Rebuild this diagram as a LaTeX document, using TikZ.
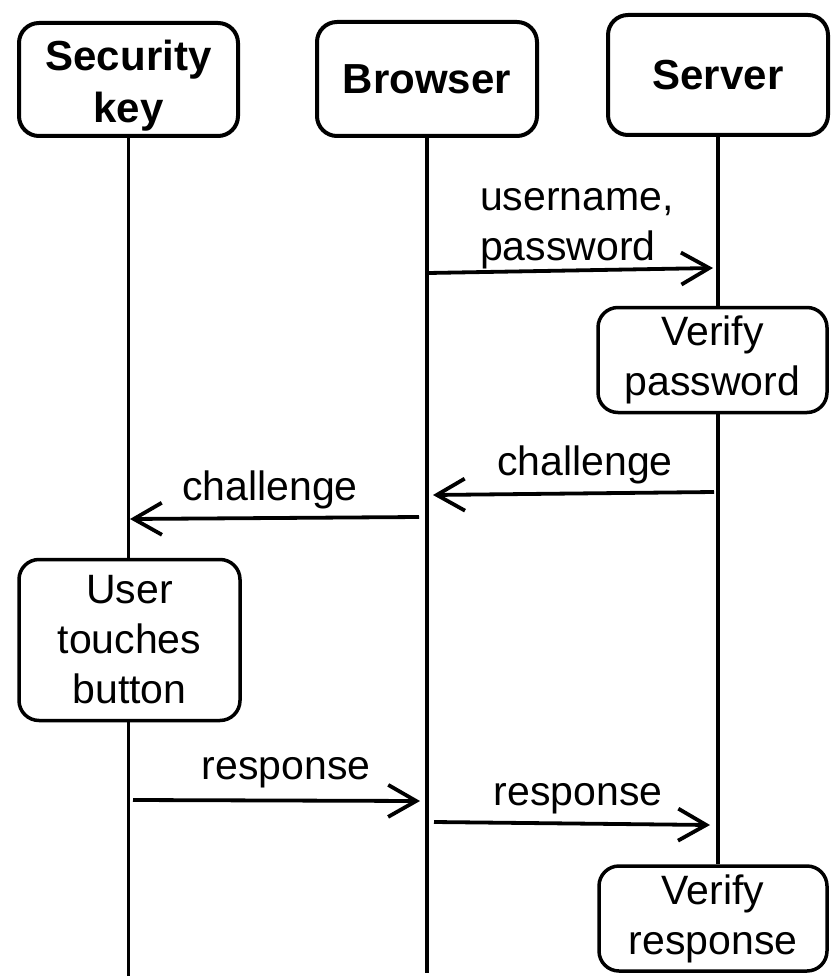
\documentclass[tikz,border=0pt]{standalone}
\usepackage{fontspec}
\setmainfont{Liberation Sans}
\usetikzlibrary{arrows.meta}

\tikzset{%
  party/.style={
    rectangle,
    rounded corners=20pt,
    line width=4pt,
    draw,
    align=center,
    font=\fontsize{42}{52}\selectfont\bfseries
  },
  action/.style={
    rectangle,
    rounded corners=20pt,
    line width=3.5pt,
    draw,
    fill=white,
    align=center,
    font=\fontsize{41}{50}\selectfont
  },
  lifeline/.style={line width=3.2pt},
  message/.style={
    line width=3.8pt,
    -{Straight Barb[length=28pt,width=32pt]}
  },
  message label/.style={
    anchor=base,
    font=\fontsize{41}{50}\selectfont
  },
}

\begin{document}
\begin{tikzpicture}[x=1pt,y=-1pt]
\useasboundingbox (0,0) rectangle (832,976);
\node[party, minimum width=219pt, minimum height=113pt] (key) at (128.5,79.5) {\rule{0pt}{43pt}Security\\key};
\node[party, minimum width=220pt, minimum height=114pt] (browser) at (427,79) {Browser};
\node[party, minimum width=220pt, minimum height=120pt] (server) at (718,75) {Server};

\node[action, minimum width=229pt, minimum height=105pt] (vpass) at (712.5,360) {Verify\\password};
\node[action, minimum width=221pt, minimum height=161pt] (touch) at (129.5,640) {User\\touches\\button};
\node[action, minimum width=228pt, minimum height=105pt] (vresp) at (713,918.5) {Verify\\response};

\coordinate (key end) at (128.5,976);
\coordinate (browser end) at (427,973);

\draw[lifeline] (key.south) -- (key.south |- touch.north);
\draw[lifeline] (key.south |- touch.south) -- (key end);
\draw[lifeline] (browser.south) -- (browser end);
\draw[lifeline] (server.south) -- (server.south |- vpass.north);
\draw[lifeline] (server.south |- vpass.south) -- (server.south |- vresp.north);

\coordinate (cred from) at (428,273);
\coordinate (cred to) at (713,268);
\coordinate (chal from) at (714,492);
\coordinate (chal to) at (433,495);
\coordinate (chal2 from) at (419,517);
\coordinate (chal2 to) at (130,519);
\coordinate (resp from) at (133,800);
\coordinate (resp to) at (420,801);
\coordinate (resp2 from) at (434,822);
\coordinate (resp2 to) at (710,825);

\draw[message] (cred from) -- (cred to);
\draw[message] (chal from) -- (chal to);
\draw[message] (chal2 from) -- (chal2 to);
\draw[message] (resp from) -- (resp to);
\draw[message] (resp2 from) -- (resp2 to);

\node[message label, align=left] (cred label) at (577,260) {username,\\password};
\node[message label] (chal label) at (585,475) {challenge};
\node[message label] (chal2 label) at (270,500) {challenge};
\node[message label] (resp label) at (286,779) {response};
\node[message label] (resp2 label) at (578,805) {response};
\end{tikzpicture}
\end{document}
